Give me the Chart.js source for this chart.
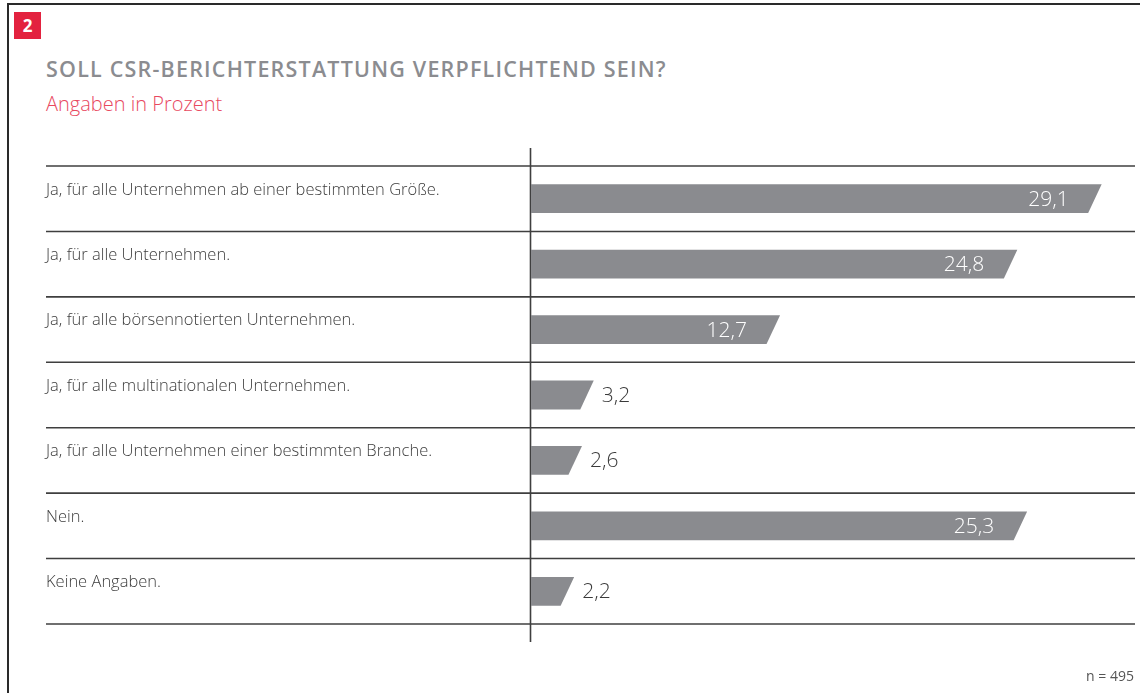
<!DOCTYPE html>
<html lang="de">
<head>
<meta charset="utf-8">
<script src="https://cdn.jsdelivr.net/npm/chart.js@4.4.1/dist/chart.umd.min.js"></script>
<style>
  html, body { margin: 0; padding: 0; background: #fff; }
  body { width: 1140px; height: 693px; position: relative; overflow: hidden; font-family: "Open Sans", sans-serif; }
  #frame { position: absolute; left: 7px; top: 3px; width: 1140px; height: 700px; border-top: 2px solid #2a2a2a; border-left: 2px solid #2a2a2a; box-sizing: border-box; }
  #badge { position: absolute; left: 14px; top: 12px; width: 27px; height: 27px; background: #e3223f; color: #fff; font-weight: 700; font-size: 17px; line-height: 27px; text-align: center; }
  #title { position: absolute; left: 46px; top: 54px; font-size: 21.5px; font-weight: 600; color: #8b8c90; letter-spacing: 1.2px; white-space: nowrap; }
  #subtitle { position: absolute; left: 46px; top: 90px; font-size: 20px; font-weight: 300; color: #e8495f; white-space: nowrap; }
  #note { position: absolute; right: 6px; top: 666px; font-size: 14px; color: #555; white-space: nowrap; }
  #wrap { position: absolute; left: 0; top: 0; width: 1140px; height: 693px; }
</style>
</head>
<body>
<div id="frame"></div>
<div id="badge">2</div>
<div id="title">SOLL CSR-BERICHTERSTATTUNG VERPFLICHTEND SEIN?</div>
<div id="subtitle">Angaben in Prozent</div>
<div id="wrap"><canvas id="c" width="1140" height="693"></canvas></div>
<div id="note">n = 495</div>
<script>
const categories = [
  "Ja, für alle Unternehmen ab einer bestimmten Größe.",
  "Ja, für alle Unternehmen.",
  "Ja, für alle börsennotierten Unternehmen.",
  "Ja, für alle multinationalen Unternehmen.",
  "Ja, für alle Unternehmen einer bestimmten Branche.",
  "Nein.",
  "Keine Angaben."
];
const values = [29.1, 24.8, 12.7, 3.2, 2.6, 25.3, 2.2];
const valueLabels = ["29,1", "24,8", "12,7", "3,2", "2,6", "25,3", "2,2"];

const BAR_COLOR = "#8a8b8f";
const LINE_COLOR = "#3f3f3f";

const slantBars = {
  id: "slantBars",
  beforeDatasetsDraw(chart) {
    const ctx = chart.ctx;
    const area = chart.chartArea;
    const y = chart.scales.y;
    const n = categories.length;
    ctx.save();
    ctx.strokeStyle = LINE_COLOR;
    ctx.lineWidth = 1.6;
    const bounds = [];
    for (let i = 0; i <= n; i++) {
      let py;
      if (i === 0) py = area.top;
      else if (i === n) py = area.bottom;
      else py = (y.getPixelForValue(i - 1) + y.getPixelForValue(i)) / 2;
      bounds.push(py);
      ctx.beginPath();
      ctx.moveTo(46, py);
      ctx.lineTo(area.right, py);
      ctx.stroke();
    }
    ctx.fillStyle = "#3c3c3c";
    ctx.font = "300 16.5px 'Open Sans'";
    ctx.textAlign = "left";
    ctx.textBaseline = "alphabetic";
    for (let i = 0; i < n; i++) {
      ctx.fillText(categories[i], 46, bounds[i] + 28.5);
    }
    const x0 = chart.scales.x.getPixelForValue(0);
    ctx.beginPath();
    ctx.moveTo(x0 - 0.5, area.top - 18);
    ctx.lineTo(x0 - 0.5, area.bottom + 18);
    ctx.stroke();
    ctx.restore();
  },
  afterDatasetsDraw(chart) {
    const ctx = chart.ctx;
    const meta = chart.getDatasetMeta(0);
    ctx.save();
    meta.data.forEach((el, i) => {
      const top = el.y - el.height / 2;
      const bot = el.y + el.height / 2;
      const left = el.base;
      const right = el.x;
      const slant = 13.5;
      ctx.fillStyle = BAR_COLOR;
      ctx.beginPath();
      ctx.moveTo(left, top);
      ctx.lineTo(right, top);
      ctx.lineTo(right - slant, bot);
      ctx.lineTo(left, bot);
      ctx.closePath();
      ctx.fill();
      ctx.font = "300 21px 'Open Sans'";
      ctx.textBaseline = "middle";
      if (values[i] >= 10) {
        ctx.fillStyle = "#ffffff";
        ctx.textAlign = "right";
        ctx.fillText(valueLabels[i], right - 33, el.y + 1);
      } else {
        ctx.fillStyle = "#3a3a3a";
        ctx.textAlign = "left";
        ctx.fillText(valueLabels[i], right + 8, el.y + 1);
      }
    });
    ctx.restore();
  }
};

new Chart(document.getElementById("c"), {
  type: "bar",
  data: {
    labels: categories,
    datasets: [{
      data: values,
      backgroundColor: "rgba(0,0,0,0)",
      borderWidth: 0,
      barPercentage: 0.44,
      categoryPercentage: 1
    }]
  },
  options: {
    indexAxis: "y",
    responsive: false,
    animation: false,
    events: [],
    layout: { padding: { left: 531, right: 5, top: 166, bottom: 69 } },
    scales: {
      x: { display: false, min: 0, max: 30.8 },
      y: { display: false, offset: true }
    },
    plugins: { legend: { display: false }, tooltip: { enabled: false }, title: { display: false } }
  },
  plugins: [slantBars]
});
</script>
</body>
</html>
